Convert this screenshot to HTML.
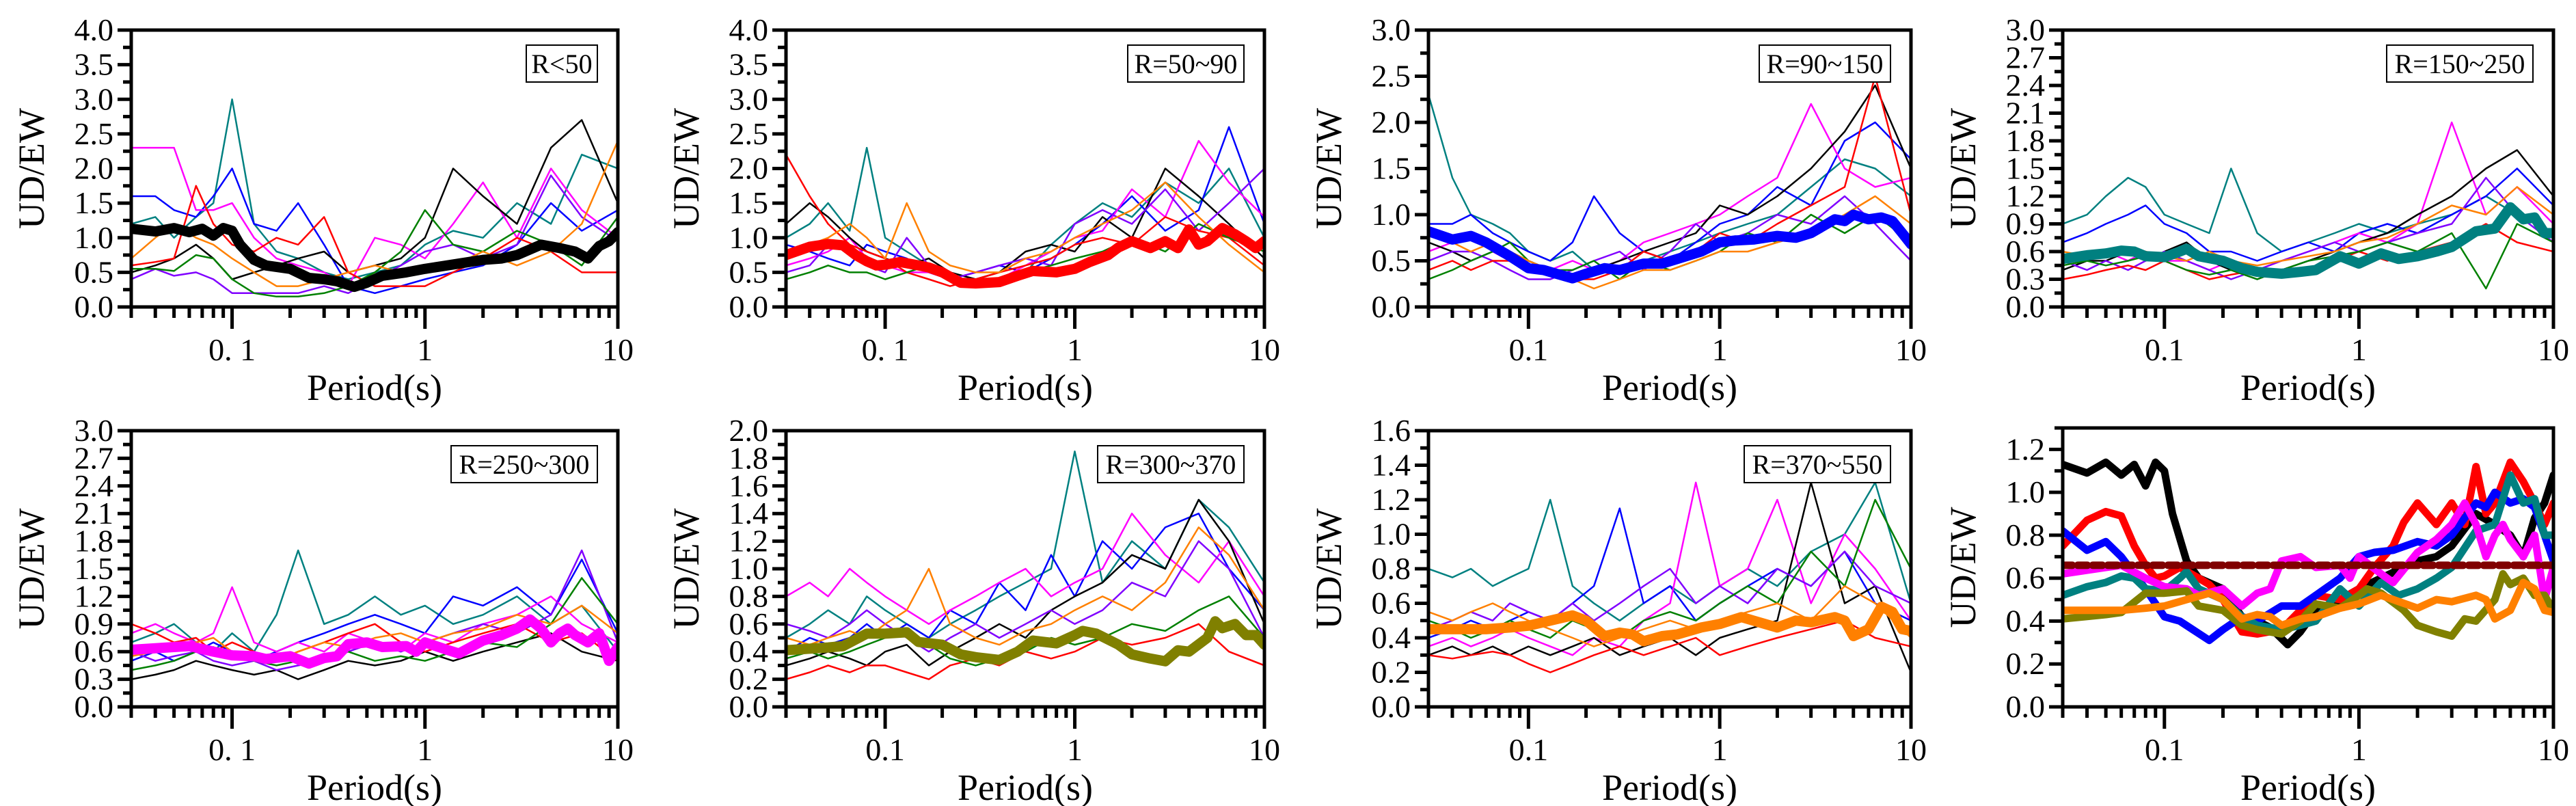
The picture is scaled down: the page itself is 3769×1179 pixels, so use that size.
<!DOCTYPE html>
<html><head><meta charset="utf-8"><style>
html,body{margin:0;padding:0;background:#fff;}
svg{display:block;}
</style></head><body>
<svg id="c" width="3769" height="1179" xmlns="http://www.w3.org/2000/svg"></svg>
<script>
const NS="http://www.w3.org/2000/svg";
const G=[0.03,0.04,0.05,0.065,0.08,0.1,0.13,0.17,0.22,0.3,0.4,0.55,0.75,1,1.4,2,3,4.5,6.5,10];
const thinColors=["#008080","#0000ff","#ff00ff","#000000","#8000ff","#ff0000","#008000","#ff8000"];
const thin1=[[1.2,1.3,1.0,1.3,1.5,3.0,1.2,0.8,0.7,0.5,0.4,0.5,0.6,0.9,1.1,1.0,1.5,1.2,2.2,2.0],[1.6,1.6,1.4,1.3,1.6,2.0,1.2,1.1,1.5,0.9,0.3,0.2,0.3,0.4,0.5,0.6,0.9,1.5,1.1,1.4],[2.3,2.3,2.3,1.4,1.4,1.5,1.0,0.7,0.6,0.5,0.3,1.0,0.9,0.7,1.2,1.8,1.0,2.0,1.4,1.0],[0.5,0.6,0.7,0.9,0.7,0.4,0.5,0.6,0.7,0.8,0.5,0.6,0.7,1.0,2.0,1.6,1.2,2.3,2.7,1.5],[0.4,0.55,0.45,0.5,0.4,0.2,0.2,0.2,0.2,0.3,0.2,0.4,0.6,0.8,0.9,0.7,0.9,1.9,1.3,0.95],[0.6,0.65,0.7,1.75,1.2,0.9,0.8,1.0,0.9,1.3,0.5,0.3,0.3,0.3,0.5,0.7,1.0,0.8,0.5,0.5],[0.55,0.55,0.52,0.75,0.7,0.4,0.2,0.15,0.15,0.2,0.3,0.5,0.8,1.4,0.9,0.8,1.1,0.9,0.6,1.3],[0.7,1.0,1.2,1.0,0.9,0.7,0.5,0.3,0.3,0.4,0.5,0.6,0.5,0.6,0.6,0.8,0.6,0.8,1.2,2.4]];
const thin2=[[1.0,1.2,1.5,1.1,2.3,1.0,0.8,0.6,0.5,0.4,0.3,0.5,0.9,1.2,1.5,1.3,1.8,1.5,2.0,1.0],[0.9,0.8,0.7,0.6,0.9,0.8,0.7,0.5,0.4,0.5,0.6,0.5,0.7,0.9,1.2,1.6,1.1,1.4,2.6,1.2],[0.6,0.7,0.8,1.0,0.7,0.6,0.5,0.5,0.4,0.3,0.4,0.6,0.8,1.0,1.1,1.7,1.3,2.4,1.8,1.3],[1.2,1.5,1.3,1.0,0.8,0.7,0.6,0.7,0.5,0.4,0.5,0.8,0.9,0.8,1.3,1.0,2.0,1.6,1.2,0.7],[0.5,0.6,0.9,0.8,0.6,0.5,1.0,0.6,0.4,0.5,0.6,0.7,0.6,1.2,1.4,1.2,1.7,1.1,1.5,2.0],[2.2,1.6,1.2,0.9,0.8,0.7,0.5,0.4,0.3,0.4,0.5,0.6,0.7,0.9,1.0,0.9,1.3,1.1,1.0,0.6],[0.4,0.5,0.6,0.5,0.5,0.4,0.5,0.6,0.4,0.3,0.4,0.5,0.6,0.7,0.8,1.0,0.8,1.2,1.0,0.8],[0.8,0.9,1.0,1.2,1.0,0.7,1.5,0.8,0.6,0.5,0.5,0.7,0.8,1.0,1.2,1.4,1.8,1.3,0.9,0.5]];
const thin3=[[2.3,1.4,1.0,0.9,0.8,0.6,0.5,0.6,0.4,0.4,0.5,0.6,0.7,0.8,0.9,1.0,1.3,1.6,1.5,1.2],[0.9,0.9,1.0,0.8,0.7,0.6,0.5,0.7,1.2,0.8,0.6,0.5,0.7,0.9,1.0,1.3,1.1,1.8,2.0,1.6],[0.6,0.7,0.8,0.6,0.5,0.5,0.4,0.5,0.4,0.5,0.7,0.8,0.9,1.0,1.2,1.4,2.2,1.5,1.3,1.4],[0.7,0.6,0.5,0.6,0.6,0.5,0.4,0.3,0.4,0.5,0.6,0.7,0.8,1.1,1.0,1.2,1.5,1.9,2.4,1.5],[0.5,0.6,0.6,0.5,0.4,0.3,0.3,0.4,0.5,0.6,0.4,0.6,0.9,0.7,0.8,1.0,0.9,1.2,0.9,0.5],[0.4,0.5,0.4,0.5,0.5,0.4,0.4,0.3,0.3,0.4,0.6,0.5,0.6,0.8,0.7,0.9,1.1,1.3,2.5,1.0],[0.3,0.4,0.5,0.6,0.7,0.5,0.4,0.4,0.5,0.3,0.5,0.4,0.5,0.6,0.8,0.7,1.0,0.8,1.0,0.7],[0.8,0.7,0.6,0.7,0.6,0.5,0.4,0.3,0.2,0.3,0.4,0.4,0.5,0.6,0.6,0.7,0.8,1.0,1.2,0.9]];
const thin4=[[0.9,1.0,1.2,1.4,1.3,1.0,0.9,0.8,1.5,0.8,0.6,0.7,0.8,0.9,0.8,0.9,1.0,1.2,1.0,0.8],[0.7,0.8,0.9,1.0,1.1,0.9,0.8,0.6,0.6,0.5,0.6,0.7,0.6,0.8,0.9,0.8,1.0,1.2,1.5,1.1],[0.5,0.5,0.6,0.5,0.6,0.5,0.5,0.4,0.5,0.4,0.5,0.6,0.7,0.8,0.7,0.9,2.0,1.0,1.3,0.9],[0.4,0.5,0.5,0.6,0.5,0.6,0.7,0.5,0.4,0.3,0.4,0.5,0.6,0.7,0.8,1.0,1.2,1.5,1.7,1.2],[0.5,0.4,0.5,0.4,0.5,0.6,0.5,0.4,0.3,0.4,0.5,0.6,0.7,0.6,0.7,0.8,0.9,1.4,1.0,0.7],[0.3,0.35,0.4,0.45,0.4,0.5,0.4,0.3,0.35,0.4,0.35,0.4,0.5,0.6,0.5,0.6,0.7,0.9,0.7,0.6],[0.45,0.5,0.45,0.5,0.55,0.5,0.4,0.35,0.4,0.3,0.4,0.5,0.55,0.6,0.7,0.6,0.8,0.2,0.9,0.7],[0.6,0.55,0.6,0.65,0.6,0.55,0.5,0.6,0.5,0.45,0.5,0.55,0.6,0.7,0.75,0.9,1.1,1.0,1.3,1.0]];
const thin5=[[0.7,0.8,0.9,0.7,0.6,0.8,0.6,1.0,1.7,0.9,1.0,1.2,1.0,1.1,0.9,1.0,1.2,0.9,1.1,0.6],[0.5,0.6,0.5,0.6,0.7,0.6,0.5,0.6,0.7,0.8,0.9,1.0,0.9,0.8,1.2,1.1,1.3,1.0,1.6,0.8],[0.8,0.9,0.8,0.7,0.8,1.3,0.7,0.6,0.7,0.6,0.8,0.7,0.6,0.8,0.7,0.9,1.0,1.2,0.9,0.7],[0.3,0.35,0.4,0.5,0.45,0.4,0.35,0.4,0.3,0.4,0.5,0.45,0.5,0.6,0.5,0.6,0.7,0.8,0.6,0.5],[0.6,0.5,0.55,0.6,0.5,0.45,0.5,0.4,0.45,0.5,0.6,0.7,0.6,0.7,0.8,0.9,0.8,1.0,1.7,0.7],[0.9,0.8,0.7,0.75,0.6,0.7,0.6,0.5,0.6,0.7,0.8,0.9,0.7,0.6,0.7,0.8,0.9,0.7,0.8,0.5],[0.4,0.45,0.5,0.6,0.65,0.55,0.5,0.45,0.5,0.55,0.6,0.5,0.55,0.5,0.6,0.7,0.65,0.9,1.4,0.9],[0.55,0.6,0.65,0.7,0.75,0.6,0.55,0.5,0.6,0.7,0.65,0.75,0.8,0.7,0.8,0.85,1.0,0.9,1.1,0.8]];
const thin6=[[0.5,0.6,0.7,0.6,0.8,0.7,0.6,0.5,0.6,0.7,0.8,0.9,1.0,1.85,0.9,1.2,1.0,1.5,1.3,0.9],[0.4,0.5,0.45,0.5,0.6,0.5,0.6,0.5,0.7,0.6,0.9,0.7,1.1,0.8,1.2,1.0,1.3,1.4,1.0,0.7],[0.8,0.9,0.8,1.0,0.9,0.8,0.7,0.6,0.7,0.8,0.9,1.0,0.8,0.9,1.0,1.4,1.1,0.9,1.2,0.8],[0.3,0.35,0.4,0.35,0.3,0.4,0.45,0.3,0.4,0.5,0.6,0.5,0.7,0.8,0.9,1.1,1.0,1.5,1.2,0.6],[0.6,0.55,0.5,0.6,0.7,0.6,0.5,0.4,0.5,0.6,0.5,0.6,0.7,0.6,0.7,0.9,0.8,1.2,1.0,0.5],[0.2,0.25,0.3,0.25,0.3,0.3,0.25,0.2,0.3,0.35,0.3,0.4,0.35,0.4,0.5,0.45,0.5,0.6,0.4,0.3],[0.35,0.4,0.35,0.4,0.45,0.5,0.55,0.45,0.35,0.3,0.35,0.4,0.5,0.45,0.5,0.6,0.55,0.7,0.8,0.5],[0.5,0.45,0.5,0.55,0.5,0.6,0.7,1.0,0.6,0.5,0.45,0.55,0.6,0.7,0.8,0.7,0.9,1.3,1.1,0.7]];
const thin7=[[0.8,0.75,0.8,0.7,0.75,0.8,1.2,0.7,0.6,0.5,0.6,0.7,0.6,0.7,0.8,0.7,0.9,1.0,1.3,0.6],[0.4,0.45,0.5,0.45,0.5,0.55,0.5,0.6,0.7,1.15,0.6,0.7,0.5,0.6,0.7,0.8,0.7,0.9,0.6,0.5],[0.35,0.4,0.35,0.4,0.45,0.4,0.35,0.3,0.4,0.35,0.5,0.6,1.3,0.7,0.8,1.2,0.6,1.0,0.8,0.5],[0.3,0.35,0.3,0.35,0.3,0.35,0.3,0.35,0.4,0.3,0.35,0.4,0.3,0.4,0.45,0.5,1.3,0.6,0.7,0.2],[0.45,0.5,0.55,0.5,0.6,0.55,0.5,0.6,0.5,0.6,0.7,0.8,0.6,0.7,0.6,0.8,0.7,0.9,0.7,0.6],[0.3,0.28,0.3,0.32,0.3,0.25,0.2,0.25,0.3,0.35,0.3,0.35,0.4,0.3,0.35,0.4,0.45,0.5,0.4,0.35],[0.5,0.45,0.4,0.45,0.5,0.45,0.4,0.5,0.45,0.4,0.5,0.55,0.5,0.6,0.7,0.6,0.9,0.7,1.2,0.8],[0.55,0.5,0.55,0.6,0.55,0.5,0.45,0.4,0.35,0.4,0.45,0.5,0.45,0.5,0.55,0.6,0.5,0.7,0.6,0.4]];
const m1P=[0.03,0.04,0.05,0.06,0.07,0.08,0.09,0.1,0.11,0.13,0.15,0.2,0.25,0.3,0.35,0.43,0.5,0.6,0.8,1,1.3,1.7,2,2.5,3,4,5,6,7,8,9,10];
const m1V=[1.13,1.09,1.14,1.08,1.13,1.03,1.14,1.1,0.9,0.68,0.6,0.55,0.42,0.4,0.37,0.29,0.35,0.45,0.5,0.55,0.6,0.65,0.68,0.7,0.75,0.9,0.85,0.8,0.7,0.88,0.95,1.08];
const m2P=[0.03,0.04,0.05,0.06,0.07,0.08,0.09,0.1,0.12,0.15,0.17,0.2,0.25,0.3,0.4,0.5,0.6,0.8,1,1.2,1.5,1.7,2,2.5,3,3.5,4,4.5,5,6,7,8,9,10];
const m2V=[0.75,0.87,0.91,0.89,0.75,0.66,0.6,0.61,0.65,0.6,0.57,0.5,0.35,0.34,0.36,0.45,0.52,0.5,0.55,0.65,0.75,0.86,0.95,0.85,0.95,0.85,1.12,0.9,0.95,1.14,1.05,0.95,0.85,0.95];
const m3P=[0.03,0.04,0.05,0.06,0.08,0.1,0.12,0.14,0.17,0.2,0.25,0.3,0.4,0.5,0.6,0.8,1,1.2,1.5,2,2.5,3,4,4.5,5,6,7,8,9,10];
const m3V=[0.82,0.73,0.77,0.7,0.55,0.42,0.4,0.36,0.31,0.36,0.42,0.4,0.47,0.47,0.52,0.6,0.7,0.72,0.73,0.77,0.75,0.8,0.95,0.93,1.0,0.95,0.97,0.93,0.8,0.68];
const m4P=[0.03,0.04,0.05,0.06,0.07,0.08,0.1,0.12,0.13,0.15,0.2,0.25,0.3,0.4,0.5,0.6,0.8,1,1.3,1.6,2,2.5,3,4,5,6,7,8,9,10];
const m4V=[0.52,0.56,0.58,0.61,0.6,0.55,0.54,0.6,0.63,0.55,0.5,0.42,0.38,0.36,0.38,0.4,0.55,0.47,0.58,0.52,0.55,0.6,0.65,0.82,0.85,1.08,0.95,0.97,0.8,0.8];
const m5P=[0.03,0.05,0.06,0.08,0.1,0.13,0.15,0.2,0.25,0.3,0.35,0.4,0.5,0.6,0.8,0.9,1,1.3,1.5,2,2.5,3,3.5,4,4.5,5,5.5,6,7,8,9,10];
const m5V=[0.62,0.65,0.66,0.6,0.56,0.55,0.52,0.55,0.47,0.53,0.55,0.68,0.7,0.65,0.66,0.6,0.7,0.62,0.58,0.72,0.78,0.85,0.95,0.85,0.7,0.8,0.85,0.78,0.7,0.8,0.5,0.65];
const m6P=[0.03,0.05,0.06,0.08,0.1,0.13,0.15,0.2,0.25,0.3,0.4,0.5,0.6,0.8,1,1.1,1.3,1.7,2,2.5,3,3.5,4,5,5.5,6,7,8,9,10];
const m6V=[0.41,0.43,0.44,0.53,0.53,0.54,0.47,0.45,0.38,0.36,0.34,0.4,0.48,0.46,0.52,0.55,0.53,0.45,0.38,0.35,0.33,0.41,0.4,0.5,0.62,0.57,0.6,0.52,0.52,0.45];
const m7P=[0.03,0.06,0.08,0.1,0.13,0.17,0.2,0.25,0.3,0.35,0.4,0.5,0.6,0.8,1,1.3,1.5,2,2.5,3,4,4.5,5,6,7,8,9,10];
const m7V=[0.45,0.45,0.46,0.47,0.5,0.53,0.5,0.41,0.43,0.42,0.38,0.41,0.42,0.46,0.48,0.52,0.5,0.46,0.5,0.49,0.52,0.5,0.41,0.45,0.58,0.55,0.45,0.44];
const meanColors=["#000000","#ff0000","#0000ff","#008080","#ff00ff","#808000","#ff8000"];
const overallMean=0.66;
const labels=["R<50","R=50~90","R=90~150","R=150~250","R=250~300","R=300~370","R=370~550"];

const svg=document.getElementById('c');
function el(tag,attrs,parent){const e=document.createElementNS(NS,tag);for(const k in attrs)e.setAttribute(k,attrs[k]);(parent||svg).appendChild(e);return e;}
const panels=[
 {x:192,y:44,w:712,h:405,ymax:4,step:0.5,dec:1,p01:"0. 1"},
 {x:1150,y:44,w:700,h:405,ymax:4,step:0.5,dec:1,p01:"0. 1"},
 {x:2090,y:44,w:706,h:405,ymax:3,step:0.5,dec:1,p01:"0.1"},
 {x:3018,y:44,w:718,h:405,ymax:3,step:0.3,dec:1,p01:"0.1"},
 {x:192,y:630,w:712,h:404,ymax:3,step:0.3,dec:1,p01:"0. 1"},
 {x:1150,y:630,w:700,h:404,ymax:2,step:0.2,dec:1,p01:"0.1"},
 {x:2090,y:630,w:706,h:404,ymax:1.6,step:0.2,dec:1,p01:"0.1"},
 {x:3018,y:626,w:718,h:408,ymax:1.3,step:0.2,dec:1,p01:"0.1"}];
const thins=[thin1,thin2,thin3,thin4,thin5,thin6,thin7];
const mP=[m1P,m2P,m3P,m4P,m5P,m6P,m7P], mV=[m1V,m2V,m3V,m4V,m5V,m6V,m7V];
const LX0=Math.log10(0.03), LX1=1;
panels.forEach((p,i)=>{
 const g=el('g',{});
 
 
 const X=v=>p.x+(Math.log10(v)-LX0)/(LX1-LX0)*p.w;
 const Y=v=>p.y+p.h-v/p.ymax*p.h;
 const clip=el('clipPath',{id:'cl'+i},g);
 el('rect',{x:p.x,y:p.y,width:p.w,height:p.h},clip);
 const pg=el('g',{'clip-path':'url(#cl'+i+')'},g);
 const line=(xs,ys,col,w,name,dash)=>{
  const d=xs.map((x,k)=>(k?'L':'M')+X(x).toFixed(1)+' '+Y(ys[k]).toFixed(1)).join(' ');
  const e=el('path',{d:d,fill:'none',stroke:col,'stroke-width':w,'stroke-linejoin':'round','stroke-linecap':'round'},pg);
  if(dash)e.setAttribute('stroke-dasharray',dash);
  
  
 };
 if(i<7){
  thins[i].forEach((t,k)=>line(G,t,thinColors[k],2.5,'station-curve-'+(k+1)));
  line(mP[i],mV[i],meanColors[i],15,'mean-curve');
 } else {
  for(let k=0;k<7;k++) line(mP[k],mV[k],meanColors[k],11,'mean-curve-'+labels[k]);
  line([0.03,10],[overallMean,overallMean],'#800000',11,'overall-mean-line','14 8');
 }
 // frame
 const fr=el('rect',{x:p.x,y:p.y,width:p.w,height:p.h,fill:'none',stroke:'#000','stroke-width':5},g);
 
 
 // y ticks
 const n=Math.floor(p.ymax/p.step+1e-6);
 for(let k=0;k<=n;k++){
  const v=k*p.step, yy=Y(v);
  el('line',{x1:p.x-20,x2:p.x,y1:yy,y2:yy,stroke:'#000','stroke-width':5},g);
  const mv=v+p.step/2;
  if(mv<p.ymax+1e-6){const ym=Y(mv);el('line',{x1:p.x-12,x2:p.x,y1:ym,y2:ym,stroke:'#000','stroke-width':5},g);}
  const t=el('text',{x:p.x-26,y:yy+15,'text-anchor':'end','font-family':'Liberation Serif, serif','font-size':46},g);
  t.textContent=v.toFixed(1);
  
  
 }
 // x ticks
 const bot=p.y+p.h;
 [0.01,0.1,1].forEach(dec=>{for(let m=1;m<10;m++){const v=dec*m;if(v<0.0299||v>10.01)continue;
  const xx=X(v);el('line',{x1:xx,x2:xx,y1:bot,y2:bot+(m===1?32:16),stroke:'#000','stroke-width':5},g);}});
 el('line',{x1:X(10),x2:X(10),y1:bot,y2:bot+32,stroke:'#000','stroke-width':5},g);
 [[0.1,p.p01],[1,"1"],[10,"10"]].forEach(([v,s])=>{
  const t=el('text',{x:X(v),y:bot+78,'text-anchor':'middle','font-family':'Liberation Serif, serif','font-size':46},g);
  t.textContent=s;
  
  
 });
 const xt=el('text',{x:p.x+p.w/2,y:bot+136,'text-anchor':'middle','font-family':'Liberation Serif, serif','font-size':54},g);
 xt.textContent="Period(s)";
 
 
 const yt=el('text',{x:0,y:0,'text-anchor':'middle','font-family':'Liberation Serif, serif','font-size':54,transform:'translate('+(p.x-128)+','+(p.y+p.h/2)+') rotate(-90)'},g);
 yt.textContent="UD/EW";
 
 
 if(i<7){
  const lg=el('g',{},g);
  
  
  const tw=labels[i].length*22+16, bx=p.x+p.w-30-tw, by=p.y+22;
  el('rect',{x:bx,y:by,width:tw,height:54,fill:'#fff',stroke:'#000','stroke-width':2},lg);
  const lt=el('text',{x:bx+tw/2,y:by+41,'text-anchor':'middle','font-family':'Liberation Serif, serif','font-size':40},lg);
  lt.textContent=labels[i];
  
  
 }
});
</script>
</body></html>
